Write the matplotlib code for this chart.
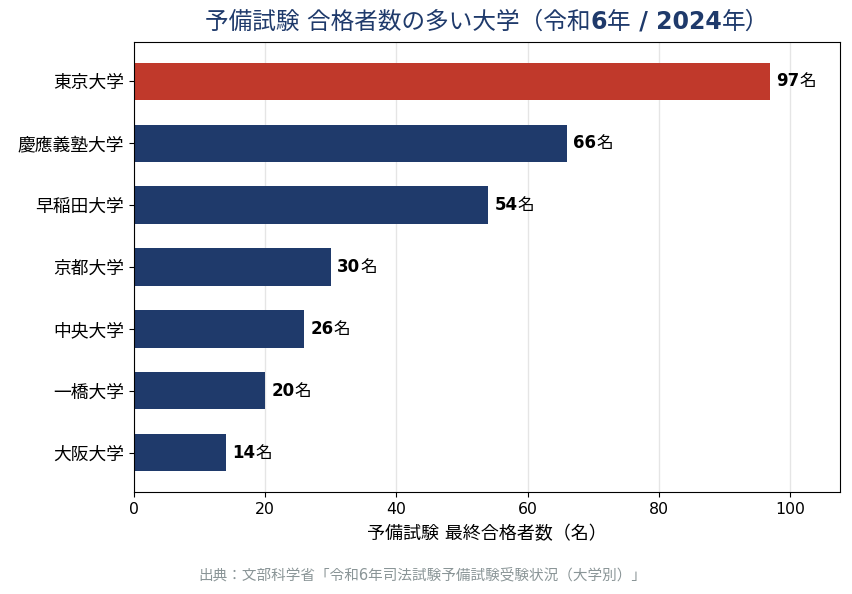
import matplotlib.pyplot as plt
from matplotlib.offsetbox import TextArea, HPacker, AnnotationBbox

FAMILY = ['DejaVu Sans', 'Noto Sans CJK JP']
plt.rcParams['font.family'] = FAMILY

# データ（令和6年 予備試験 大学別合格者数）
universities = ['東京大学', '慶應義塾大学', '早稲田大学', '京都大学', '中央大学', '一橋大学', '大阪大学']
passers = [97, 66, 54, 30, 26, 20, 14]
unit = '名'

navy = '#1f3a6b'
red = '#c0392b'
colors = [red] + [navy] * (len(universities) - 1)


def mixed(parts, size, color='black'):
    # 数字は太字、漢字は標準ウェイトで並べる
    boxes = [TextArea(s, textprops=dict(fontsize=size, color=color,
                                        fontweight='bold' if b else 'normal',
                                        family=FAMILY))
             for s, b in parts]
    return HPacker(children=boxes, align='baseline', pad=0, sep=0)


fig, ax = plt.subplots(figsize=(8.53, 5.94), dpi=100)
fig.subplots_adjust(left=0.157, right=0.985, top=0.929, bottom=0.172)

pos = list(range(len(universities)))
ax.barh(pos, passers, height=0.6, color=colors, zorder=2)
ax.set_yticks(pos)
ax.set_yticklabels(universities, fontsize=12.8)
ax.invert_yaxis()

# 数値ラベル
for i, v in zip(pos, passers):
    box = mixed([(str(v), True), (unit, False)], 12)
    ab = AnnotationBbox(box, (v, i), xybox=(4.5, 0), xycoords='data',
                        boxcoords='offset points', box_alignment=(0, 0.5),
                        frameon=False, pad=0)
    ax.add_artist(ab)

ax.set_xlim(0, max(passers) * 1.11)
ax.grid(axis='x', color='#c0c0c0', alpha=0.4, linewidth=1, zorder=3)
ax.tick_params(axis='x', labelsize=11.3)

ax.set_xlabel('予備試験 最終合格者数（名）', fontsize=13, labelpad=6)

# タイトル（数字のみ太字、軸の中央に配置）
title = mixed([('予備試験 合格者数の多い大学（令和', False), ('6', True),
               ('年', False), (' / 2024', True), ('年）', False)], 17, navy)
tb = AnnotationBbox(title, (0.5, 1.045), xycoords='axes fraction',
                    box_alignment=(0.5, 0.5), frameon=False, pad=0)
ax.add_artist(tb)

fig.text(0.495, 0.032, '出典：文部科学省「令和6年司法試験予備試験受験状況（大学別）」',
         ha='center', va='center', fontsize=10.5, color='#8a9597')

plt.savefig('out.png')
